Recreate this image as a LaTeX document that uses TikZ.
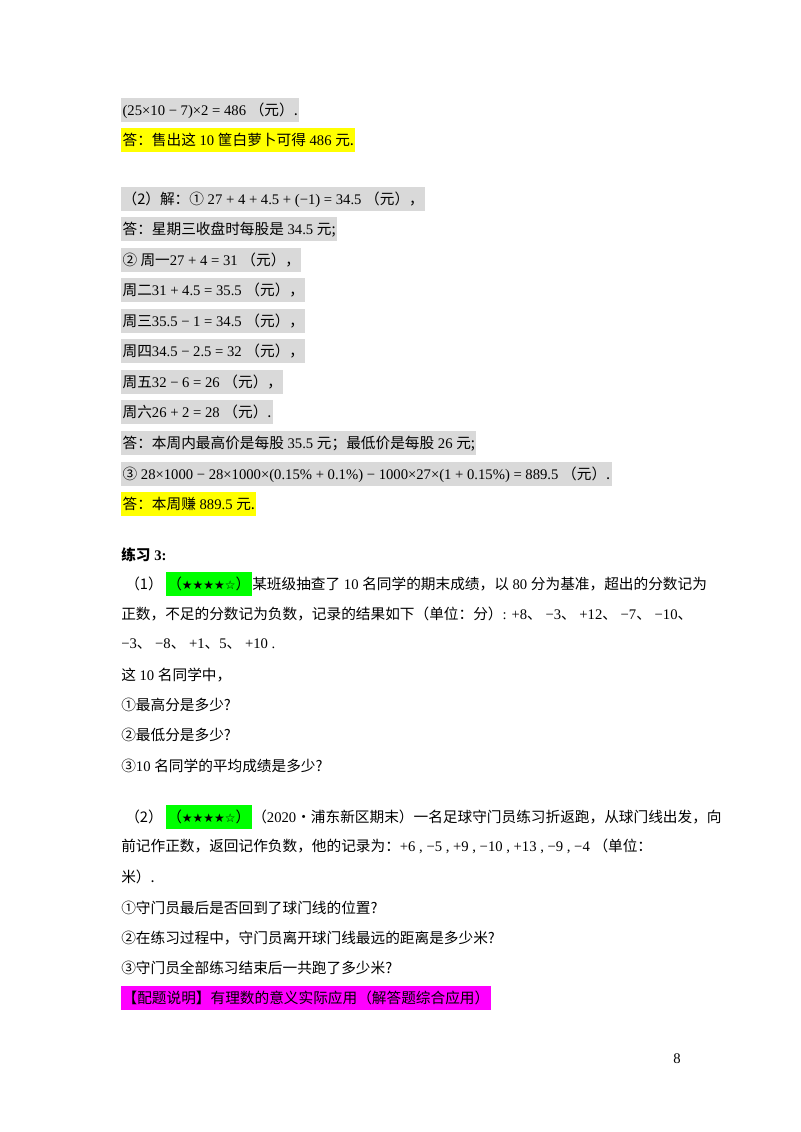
\documentclass[tikz,border=0pt]{standalone}
\usepackage{fontspec}
\usetikzlibrary{positioning}
\setmainfont{Liberation Serif}
\newfontfamily\cjk{Noto Sans CJK SC}
\newfontfamily\symf{DejaVu Sans}
\newcommand\zh[1]{{\cjk #1}}
\newcommand\stars{{\symf\small ★★★★☆}}
\definecolor{graybg}{RGB}{217,217,217}
\definecolor{hiyel}{RGB}{255,255,0}
\definecolor{higrn}{RGB}{0,255,0}
\definecolor{himag}{RGB}{255,0,255}
\tikzset{
  txt/.style={anchor=west, inner sep=0pt, font=\fontsize{11}{13}\selectfont},
  box/.style={txt, fill=#1, inner ysep=0pt, text height=13pt, text depth=5pt, inner xsep=1pt},
}
\begin{document}
\begin{tikzpicture}[x=0.75pt,y=-0.75pt]
\useasboundingbox (0,0) rectangle (800,1132);

% answer part
\node[box=graybg] (r1) at (121,110) {(25×10 − 7)×2 = 486 \zh{（元）.}};
\node[box=hiyel] (r2) at (121,140) {\zh{答：售出这} 10 \zh{筐白萝卜可得} 486 \zh{元.}};
\node[box=graybg] (r3) at (121,199) {\zh{（2）解：①} 27 + 4 + 4.5 + (−1) = 34.5 \zh{（元），}};
\node[box=graybg] (r4) at (121,229) {\zh{答：星期三收盘时每股是} 34.5 \zh{元;}};
\node[box=graybg] (r5) at (121,260) {\zh{② 周一}27 + 4 = 31 \zh{（元），}};
\node[box=graybg] (r6) at (121,290) {\zh{周二}31 + 4.5 = 35.5 \zh{（元），}};
\node[box=graybg] (r7) at (121,321) {\zh{周三}35.5 − 1 = 34.5 \zh{（元），}};
\node[box=graybg] (r8) at (121,351) {\zh{周四}34.5 − 2.5 = 32 \zh{（元），}};
\node[box=graybg] (r9) at (121,382) {\zh{周五}32 − 6 = 26 \zh{（元），}};
\node[box=graybg] (r10) at (121,412) {\zh{周六}26 + 2 = 28 \zh{（元）.}};
\node[box=graybg] (r11) at (121,443) {\zh{答：本周内最高价是每股} 35.5 \zh{元；最低价是每股} 26 \zh{元;}};
\node[box=graybg] (r12) at (121,474) {\zh{③} 28×1000 − 28×1000×(0.15\% + 0.1\%) − 1000×27×(1 + 0.15\%) = 889.5 \zh{（元）.}};
\node[box=hiyel] (r13) at (121,504) {\zh{答：本周赚} 889.5 \zh{元.}};

% exercise 3
\node[txt] (e0) at (121,555) {\zh{\bfseries 练习} \textbf{3:}};
\node[txt] (e1a) at (125,584) {\zh{（1）}};
\node[box=higrn, right=2pt of e1a] (e1b) {\zh{（}\stars\zh{）}};
\node[txt, right=0pt of e1b] (e1c) {\zh{某班级抽查了} 10 \zh{名同学的期末成绩，以} 80 \zh{分为基准，超出的分数记为}};
\node[txt] (e2) at (121,614) {\zh{正数，不足的分数记为负数，记录的结果如下（单位：分）}: +8\zh{、} −3\zh{、} +12\zh{、} −7\zh{、} −10\zh{、}};
\node[txt] (e3) at (121,644) {−3\zh{、} −8\zh{、} +1\zh{、}5\zh{、} +10 .};
\node[txt] (e4) at (121,675) {\zh{这} 10 \zh{名同学中，}};
\node[txt] (e5) at (121,705) {\zh{①最高分是多少?}};
\node[txt] (e6) at (121,735) {\zh{②最低分是多少?}};
\node[txt] (e7) at (121,766) {\zh{③}10 \zh{名同学的平均成绩是多少?}};
\node[txt] (f1a) at (125,817) {\zh{（2）}};
\node[box=higrn, right=2pt of f1a] (f1b) {\zh{（}\stars\zh{）}};
\node[txt, right=0pt of f1b] (f1c) {\zh{（}2020\zh{•浦东新区期末）一名足球守门员练习折返跑，从球门线出发，向}};
\node[txt] (f2) at (121,846) {\zh{前记作正数，返回记作负数，他的记录为：}+6 , −5 , +9 , −10 , +13 , −9 , −4 \zh{（单位：}};
\node[txt] (f3) at (121,877) {\zh{米）.}};
\node[txt] (f4) at (121,908) {\zh{①守门员最后是否回到了球门线的位置?}};
\node[txt] (f5) at (121,938) {\zh{②在练习过程中，守门员离开球门线最远的距离是多少米?}};
\node[txt] (f6) at (121,968) {\zh{③守门员全部练习结束后一共跑了多少米?}};
\node[box=himag] (f7) at (121,998) {\zh{【配题说明】有理数的意义实际应用（解答题综合应用）}};

% page number
\node[txt, anchor=center] (pg) at (677,1059) {8};
\end{tikzpicture}
\end{document}
